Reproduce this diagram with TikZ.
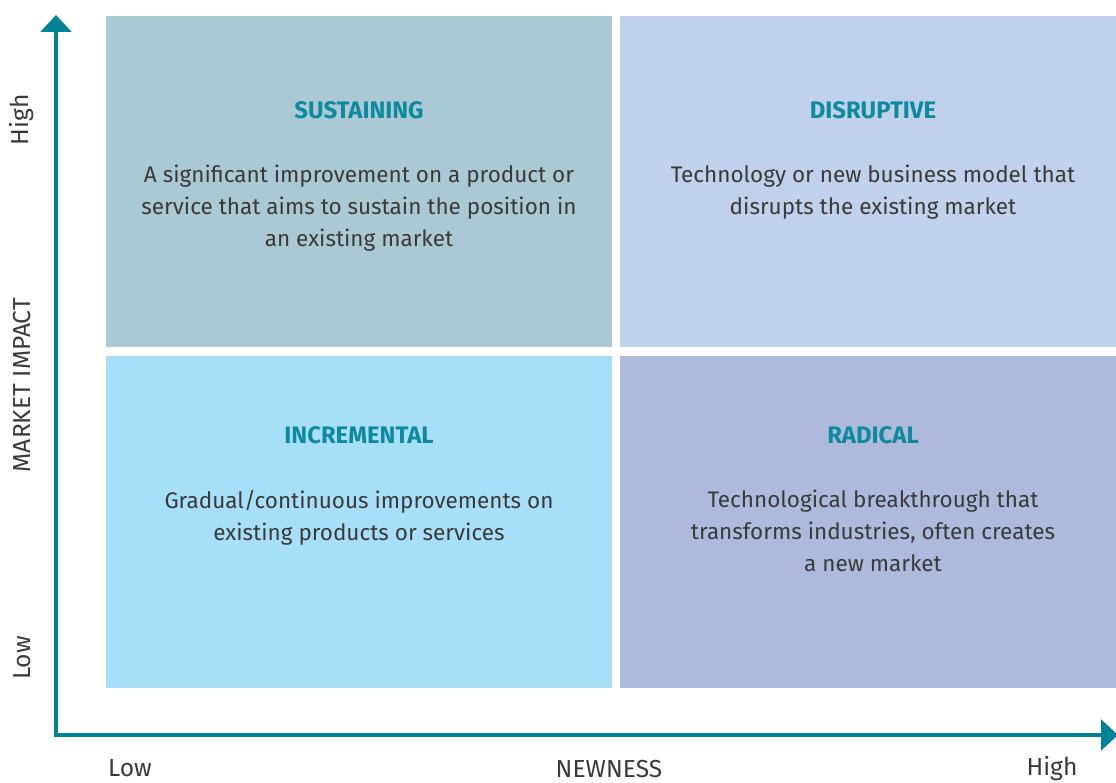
\documentclass[tikz,border=0pt]{standalone}
\usepackage{fontspec}
\setmainfont{Fira Sans}
\usetikzlibrary{arrows.meta,positioning}
\definecolor{axisteal}{RGB}{0,131,150}
\definecolor{titleteal}{RGB}{14,138,158}
\definecolor{bodygray}{RGB}{58,58,58}
\definecolor{sustfill}{RGB}{171,201,212}
\definecolor{disrfill}{RGB}{191,209,235}
\definecolor{incrfill}{RGB}{168,223,248}
\definecolor{radifill}{RGB}{174,186,220}
\tikzset{
  quad/.style={draw=none, inner sep=0pt, anchor=south west},
  qtitle/.style={font=\bfseries\fontsize{17}{20}\selectfont, text=titleteal, inner sep=0pt},
  qbody/.style={font=\fontsize{16}{22.7}\selectfont, text=bodygray, align=center, inner sep=0pt},
  axislabel/.style={font=\fontsize{17.5}{20}\selectfont, text=bodygray, inner sep=0pt}
}
\begin{document}
\begin{tikzpicture}
  \useasboundingbox (0,0) rectangle (27.9,19.575);
  % quadrants
  \node[quad, fill=sustfill, minimum width=12.65cm, minimum height=8.275cm] (sust) at (2.65,10.9) {};
  \node[quad, fill=disrfill, minimum width=12.4cm, minimum height=8.275cm] (disr) at (15.5,10.9) {};
  \node[quad, fill=incrfill, minimum width=12.65cm, minimum height=8.3cm] (incr) at (2.65,2.375) {};
  \node[quad, fill=radifill, minimum width=12.4cm, minimum height=8.3cm] (radi) at (15.5,2.375) {};
  % titles and texts
  \node[qtitle] (sustT) at (8.975,16.825) {SUSTAINING};
  \node[qbody, below=1.15cm of sustT] (sustB) {A significant improvement on a product or\\service that aims to sustain the position in\\an existing market};
  \node[qtitle] (disrT) at (21.825,16.825) {DISRUPTIVE};
  \node[qbody, below=1.15cm of disrT] (disrB) {Technology or new business model that\\disrupts the existing market};
  \node[qtitle] (incrT) at (8.975,8.7) {INCREMENTAL};
  \node[qbody, below=1.15cm of incrT] (incrB) {Gradual/continuous improvements on\\existing products or services};
  \node[qtitle] (radiT) at (21.825,8.7) {RADICAL};
  \node[qbody, below=1.15cm of radiT] (radiB) {Technological breakthrough that\\transforms industries, often creates\\a new market};
  % axes
  \coordinate (origin) at (1.4,1.2);
  \coordinate (ytip) at (1.4,19.2);
  \coordinate (xtip) at (27.95,1.2);
  \draw[axisteal, line width=3.5pt, line join=miter,
        {Triangle[width=0.75cm,length=0.42cm]}-{Triangle[width=0.75cm,length=0.42cm]}]
        (ytip) -- (origin) -- (xtip);
  \node[axislabel, rotate=90] (yhigh) at (0.55,16.575) {High};
  \node[axislabel, rotate=90] (yname) at (0.55,9.95) {MARKET IMPACT};
  \node[axislabel, rotate=90] (ylow) at (0.55,3.125) {Low};
  \node[axislabel] (xlow) at (3.25,0.36) {Low};
  \node[axislabel] (xname) at (15.225,0.36) {NEWNESS};
  \node[axislabel] (xhigh) at (26.3,0.36) {High};
\end{tikzpicture}
\end{document}
